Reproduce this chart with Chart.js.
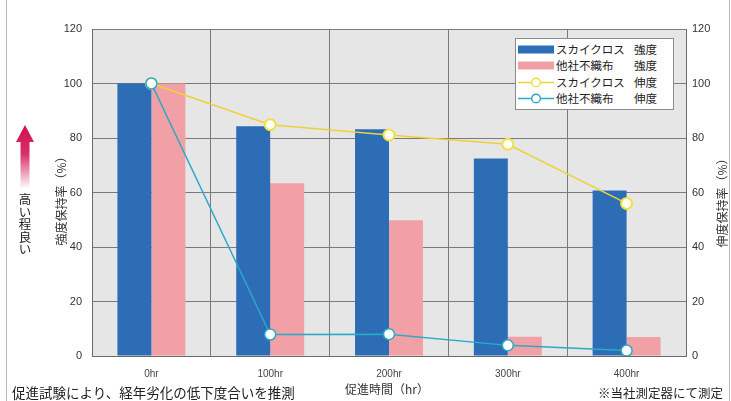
<!DOCTYPE html>
<html><head><meta charset="utf-8">
<script src="https://cdn.jsdelivr.net/npm/chart.js@4.4.1/dist/chart.umd.min.js"></script>
<style>
html,body{margin:0;padding:0;background:#fff;}
#wrap{position:relative;width:731px;height:401px;overflow:hidden;font-family:"Noto Sans CJK JP","Noto Sans",sans-serif;color:#222;}
#c{position:absolute;left:0;top:0;}
.abs{position:absolute;white-space:nowrap;}
.rot{transform:translate(-50%,-50%) rotate(-90deg);}
#legend{position:absolute;left:515px;top:38px;width:157px;height:70px;border:1px solid #8a8a8a;background:#fff;}
.row{position:absolute;left:0;height:17px;width:157px;font-size:11.5px;line-height:17px;color:#222;}
.sym{position:absolute;left:2px;top:0;width:36px;height:17px;}
.n1{position:absolute;left:40px;top:0;}
.n2{position:absolute;left:118px;top:0;}
.frame{position:absolute;background:#b8b8b8;}
#vt{position:absolute;left:17px;top:193px;width:16px;text-align:center;font-size:12.5px;line-height:12.5px;color:#222;}
#vt span{display:block;}
</style></head><body>
<div id="wrap">
<canvas id="c" width="731" height="401"></canvas>
<div class="frame" style="left:6px;top:0;width:1px;height:401px;"></div>
<div class="frame" style="left:729px;top:0;width:1px;height:401px;"></div>
<div id="legend"></div>
<svg class="abs" style="left:14px;top:123px;" width="22" height="68">
<defs><linearGradient id="g" x1="0" y1="0" x2="0" y2="1">
<stop offset="0" stop-color="#d0104c"/><stop offset="0.45" stop-color="#d8306a"/><stop offset="1" stop-color="#ffffff"/></linearGradient></defs>
<polygon points="11,2 20,19 15.5,19 15.5,66 6.5,66 6.5,19 2,19" fill="url(#g)"/>
</svg>
<div id="vt"><span>高</span><span>い</span><span>程</span><span>良</span><span>い</span></div>
<div class="abs rot" id="ytl" style="left:60px;top:198px;font-size:12px;color:#333;"></div>
<div class="abs rot" id="ytr" style="left:721px;top:200px;font-size:12px;color:#333;"></div>
<div class="abs" id="xt" style="left:387px;top:380px;transform:translateX(-50%);font-size:12px;color:#333;"></div>
<div class="abs" style="left:12px;top:382px;font-size:13.5px;color:#222;">促進試験により、経年劣化の低下度合いを推測</div>
<div class="abs" style="left:598px;top:383px;font-size:12.5px;color:#222;">※当社測定器にて測定</div>
</div>
<script>
const categories = ["0hr","100hr","200hr","300hr","400hr"];
const products = ["スカイクロス","他社不織布"];
const measures = ["強度","伸度"];
const skyStrength = [100, 84.3, 83.2, 72.5, 60.7];
const otherStrength = [100, 63.4, 49.8, 7.1, 7.0];
const skyElong = [100, 84.9, 81.1, 77.7, 56.0];
const otherElong = [100, 7.9, 8.0, 3.9, 2.0];
const yTicks = [0, 20, 40, 60, 80, 100, 120];
const yTitleLeft = "強度保持率（%）";
const yTitleRight = "伸度保持率（%）";
const xTitle = "促進時間（hr）";

const colors = {blue:"#2d6db5", pink:"#f1a0a6", yellow:"#ecd23a", cyan:"#2aa9c9"};

document.getElementById('ytl').textContent = yTitleLeft;
document.getElementById('ytr').textContent = yTitleRight;
document.getElementById('xt').textContent = xTitle;

const datasets = [
  {type:'bar', label:products[0]+' '+measures[0], data:skyStrength, backgroundColor:colors.blue, yAxisID:'y', order:2},
  {type:'bar', label:products[1]+' '+measures[0], data:otherStrength, backgroundColor:colors.pink, yAxisID:'y', order:2},
  {type:'line', label:products[0]+' '+measures[1], data:skyElong, borderColor:colors.yellow, backgroundColor:'#fff',
   pointBackgroundColor:'#fff', pointBorderColor:'#f2e040', pointRadius:5.5, pointBorderWidth:2, borderWidth:1.5, yAxisID:'y2', order:1},
  {type:'line', label:products[1]+' '+measures[1], data:otherElong, borderColor:colors.cyan, backgroundColor:'#fff',
   pointBackgroundColor:'#fff', pointBorderColor:colors.cyan, pointRadius:5.5, pointBorderWidth:1.5, borderWidth:1.5, yAxisID:'y2', order:0}
];

// HTML legend built from the datasets
const leg = document.getElementById('legend');
const legendNames = [[products[0],measures[0]],[products[1],measures[0]],[products[0],measures[1]],[products[1],measures[1]]];
datasets.forEach((d,i)=>{
  const row = document.createElement('div');
  row.className='row'; row.style.top = (1.5 + i*16.6) + 'px';
  let sym;
  if(d.type==='bar'){
    sym = '<svg class="sym" width="36" height="17"><rect x="0" y="4.5" width="36" height="8" fill="'+d.backgroundColor+'"/></svg>';
  } else {
    sym = '<svg class="sym" width="36" height="17"><line x1="0" y1="8.5" x2="36" y2="8.5" stroke="'+d.borderColor+'" stroke-width="1.3"/><circle cx="18" cy="8.5" r="4.3" fill="#fff" stroke="'+d.pointBorderColor+'" stroke-width="1.4"/></svg>';
  }
  row.innerHTML = sym + '<span class="n1">'+legendNames[i][0]+'</span><span class="n2">'+legendNames[i][1]+'</span>';
  leg.appendChild(row);
});

const bgPlugin = {
  id:'plotbg',
  beforeDraw(chart){
    const {ctx, chartArea:a} = chart;
    ctx.save(); ctx.fillStyle = '#e6e6e6';
    ctx.fillRect(a.left, a.top, a.right-a.left, a.bottom-a.top);
    ctx.restore();
  }
};

const tickFont = {family:"'Liberation Sans', Arial, sans-serif", size:11};
new Chart(document.getElementById('c'), {
  data:{labels:categories, datasets:datasets},
  options:{
    responsive:false, animation:false,
    layout:{padding:{top:29,left:0,right:0,bottom:0}},
    plugins:{legend:{display:false}, tooltip:{enabled:false}, title:{display:false}},
    datasets:{bar:{categoryPercentage:0.572, barPercentage:1.0}},
    scales:{
      x:{
        grid:{offset:true, color:'#7a7a7a', lineWidth:1, drawTicks:false},
        border:{color:'#6a6a6a', width:1},
        ticks:{font:{family:"'Liberation Sans', Arial, sans-serif", size:10}, color:'#444', padding:12},
        afterFit(s){ s.height = 45; }
      },
      y:{
        position:'left', min:0, max:120,
        afterBuildTicks(s){ s.ticks = yTicks.map(v=>({value:v})); },
        grid:{color:'#7a7a7a', lineWidth:1, drawTicks:false},
        border:{color:'#6a6a6a', width:1},
        ticks:{font:tickFont, color:'#333', padding:10},
        afterFit(s){ s.width = 92; }
      },
      y2:{
        position:'right', min:0, max:120,
        afterBuildTicks(s){ s.ticks = yTicks.map(v=>({value:v})); },
        grid:{display:false, drawTicks:false},
        border:{color:'#6a6a6a', width:1},
        ticks:{font:tickFont, color:'#333', padding:6},
        afterFit(s){ s.width = 45; }
      }
    }
  },
  plugins:[bgPlugin]
});
</script>
</body></html>
